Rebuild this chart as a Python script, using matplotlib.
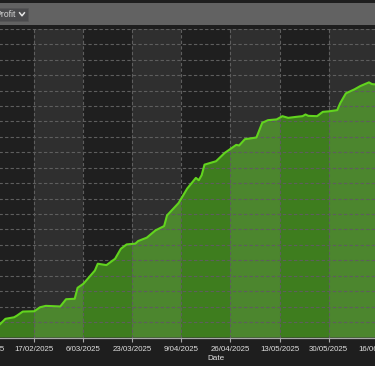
import pandas as pd
import matplotlib
matplotlib.use("Agg")
import matplotlib.pyplot as plt
import matplotlib.dates as mdates
from matplotlib.patches import Rectangle
from matplotlib.lines import Line2D

# -------------------------------
# Data
# -------------------------------
trade_dates = [
    "2025-02-03", "2025-02-05", "2025-02-07", "2025-02-10", "2025-02-11",
    "2025-02-13", "2025-02-17", "2025-02-19", "2025-02-21", "2025-02-26",
    "2025-02-28", "2025-03-03", "2025-03-04", "2025-03-06", "2025-03-10",
    "2025-03-11", "2025-03-14", "2025-03-17", "2025-03-19", "2025-03-21",
    "2025-03-24", "2025-03-25", "2025-03-28", "2025-03-31", "2025-04-03",
    "2025-04-04", "2025-04-08", "2025-04-11", "2025-04-14", "2025-04-15",
    "2025-04-16", "2025-04-17", "2025-04-21", "2025-04-22", "2025-04-24",
    "2025-04-28", "2025-04-29", "2025-05-01", "2025-05-03", "2025-05-05",
    "2025-05-07", "2025-05-09", "2025-05-12", "2025-05-14", "2025-05-16",
    "2025-05-19", "2025-05-21", "2025-05-22", "2025-05-23", "2025-05-26",
    "2025-05-28", "2025-05-30", "2025-06-02", "2025-06-03", "2025-06-05",
    "2025-06-08", "2025-06-10", "2025-06-13", "2025-06-14", "2025-06-15",
    "2025-06-17", "2025-06-19",
]

profit = [
    370, 420, 605, 655, 710,
    840, 850, 980, 1025, 1005,
    1240, 1255, 1610, 1740, 2170,
    2390, 2345, 2550, 2875, 3015,
    3040, 3125, 3235, 3470, 3610,
    3955, 4355, 4825, 5170, 5095,
    5255, 5600, 5710, 5800, 5980,
    6240, 6220, 6425, 6450, 6480,
    6955, 7040, 7065, 7170, 7115,
    7150, 7170, 7225, 7180, 7170,
    7310, 7325, 7365, 7585, 7910,
    8040, 8145, 8265, 8210, 8200,
    8240, 8280,
]

tick_dates = [
    "2025-01-31", "2025-02-17", "2025-03-06", "2025-03-23", "2025-04-09",
    "2025-04-26", "2025-05-13", "2025-05-30", "2025-06-16",
]

tick_labels = [
    "31/01/2025", "17/02/2025", "6/03/2025", "23/03/2025", "9/04/2025",
    "26/04/2025", "13/05/2025", "30/05/2025", "16/06/2025",
]

W, H = 375, 366


def fx(x):
    return x / W


def fy(y):
    return 1 - y / H


def main():
    plt.rcParams["font.family"] = ["Liberation Sans", "DejaVu Sans"]

    dates = pd.to_datetime(trade_dates)
    ticks = pd.to_datetime(tick_dates)

    fig = plt.figure(figsize=(W / 100, H / 100), dpi=100)
    fig.patch.set_facecolor("#1e1e1e")

    # top toolbar
    fig.patches.append(Rectangle((fx(0), fy(24.5)), 1, (24.5 - 2.5) / H,
                                 transform=fig.transFigure,
                                 facecolor="#626262", edgecolor="none"))
    fig.patches.append(Rectangle((fx(-6), fy(20.7)), (27.7 + 6) / W, 12.4 / H,
                                 transform=fig.transFigure,
                                 facecolor="#4a4a4c", edgecolor="#565656",
                                 linewidth=0.6))
    fig.text(fx(15.9), fy(14.6), "Profit", ha="right", va="center",
             fontsize=6.2, color="#d6d6d6")
    fig.lines.append(Line2D([fx(19.6), fx(22.0), fx(24.4)],
                            [fy(12.8), fy(15.8), fy(12.8)],
                            transform=fig.transFigure,
                            color="#e6e6e6", linewidth=1.1))

    # plot area: the view is a crop of a wider chart, so the axes run
    # past both edges of the figure
    x_left, x_right = -60.0, 492.0
    y_top, y_bot = 28.8, 337.5
    ax = fig.add_axes([fx(x_left), fy(y_bot), (x_right - x_left) / W,
                       (y_bot - y_top) / H])
    ax.set_facecolor("#1f1f1f")

    ax.fill_between(dates, profit, 0, color="#3e7d1e", linewidth=0, zorder=1)
    ax.plot(dates, profit, color="#62d41e", linewidth=1.5, zorder=4)

    # alternating bands between date ticks
    for i in range(1, len(ticks) - 1, 2):
        ax.axvspan(ticks[i], ticks[i + 1],
                   color="white", alpha=0.075, linewidth=0, zorder=2)

    ax.set_xticks(ticks)
    ax.set_xticklabels(tick_labels)
    ax.set_yticks(range(0, 10001, 500))

    # limits last: set_xticks would widen them
    ref = mdates.date2num(pd.Timestamp("2025-02-17"))
    px_per_day = 2.885
    ax.set_xlim(ref + (x_left - 34.3) / px_per_day,
                ref + (x_right - 34.3) / px_per_day)
    ax.set_ylim(0, 10000)

    ax.grid(True, color="#5e5e5e", linestyle=(0, (3, 2)), linewidth=0.8,
            zorder=3)
    ax.set_axisbelow(False)

    ax.tick_params(axis="x", colors="#a8a8a8", labelcolor="#e0e0e0",
                   labelsize=5.7, length=3, width=0.8, pad=3)
    ax.tick_params(axis="y", left=False, labelleft=False)

    for side in ["left", "right", "top"]:
        ax.spines[side].set_visible(False)
    ax.spines["bottom"].set_color("#a8a8a8")
    ax.spines["bottom"].set_linewidth(0.9)
    ax.spines["bottom"].set_zorder(5)

    ax.set_xlabel("Date", color="#e0e0e0", fontsize=5.9, labelpad=1.5)

    fig.savefig("out.png", dpi=100, facecolor=fig.get_facecolor())
    plt.close(fig)


if __name__ == "__main__":
    main()
